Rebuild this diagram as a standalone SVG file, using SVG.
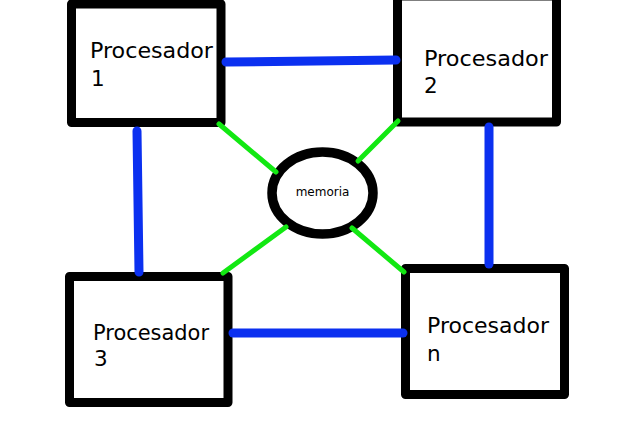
<svg xmlns="http://www.w3.org/2000/svg" width="640" height="421" viewBox="0 0 640 421">
<style>
.box{fill:#fff;stroke:#000;stroke-width:9;stroke-linejoin:round}
.t{font-family:"DejaVu Sans",sans-serif;font-size:21.5px;fill:#000}
.m{font-family:"DejaVu Sans",sans-serif;font-size:12px;fill:#000;text-anchor:middle}
.bus{stroke:#0b30f0;stroke-width:9;stroke-linecap:round;fill:none}
.link{stroke:#12e812;stroke-width:5;stroke-linecap:round;fill:none}
</style>
<rect width="640" height="421" fill="#fff"/>
<g id="proc1"><rect class="box" x="71.5" y="4" width="149.5" height="118.5"/><text class="t" x="90" y="58" textLength="123" lengthAdjust="spacingAndGlyphs">Procesador</text><text class="t" x="91" y="86">1</text></g>
<g id="proc2"><rect class="box" x="397.5" y="-4" width="159" height="126"/><text class="t" x="424" y="66" textLength="124" lengthAdjust="spacingAndGlyphs">Procesador</text><text class="t" x="424" y="93">2</text></g>
<g id="proc3"><rect class="box" x="69.5" y="276.5" width="158.5" height="126"/><text class="t" x="93" y="340" textLength="116" lengthAdjust="spacingAndGlyphs">Procesador</text><text class="t" x="94" y="366">3</text></g>
<g id="procn"><rect class="box" x="405.5" y="268.5" width="159" height="126"/><text class="t" x="427" y="333" textLength="122" lengthAdjust="spacingAndGlyphs">Procesador</text><text class="t" x="427" y="361">n</text></g>
<g id="memoria"><ellipse cx="322.5" cy="193" rx="50.5" ry="41" fill="#fff" stroke="#000" stroke-width="9.5"/><text class="m" x="322.5" y="196">memoria</text></g>
<g id="connectors">
<path class="bus" d="M226 62L396 60"/>
<path class="bus" d="M137 131L139 272"/>
<path class="bus" d="M489 127L489 264"/>
<path class="bus" d="M233 333L403 333"/>
<path class="link" d="M219 124L276 172"/>
<path class="link" d="M398 121L358 161"/>
<path class="link" d="M286 227L223 273"/>
<path class="link" d="M352 228L404 272"/>
</g>
</svg>
